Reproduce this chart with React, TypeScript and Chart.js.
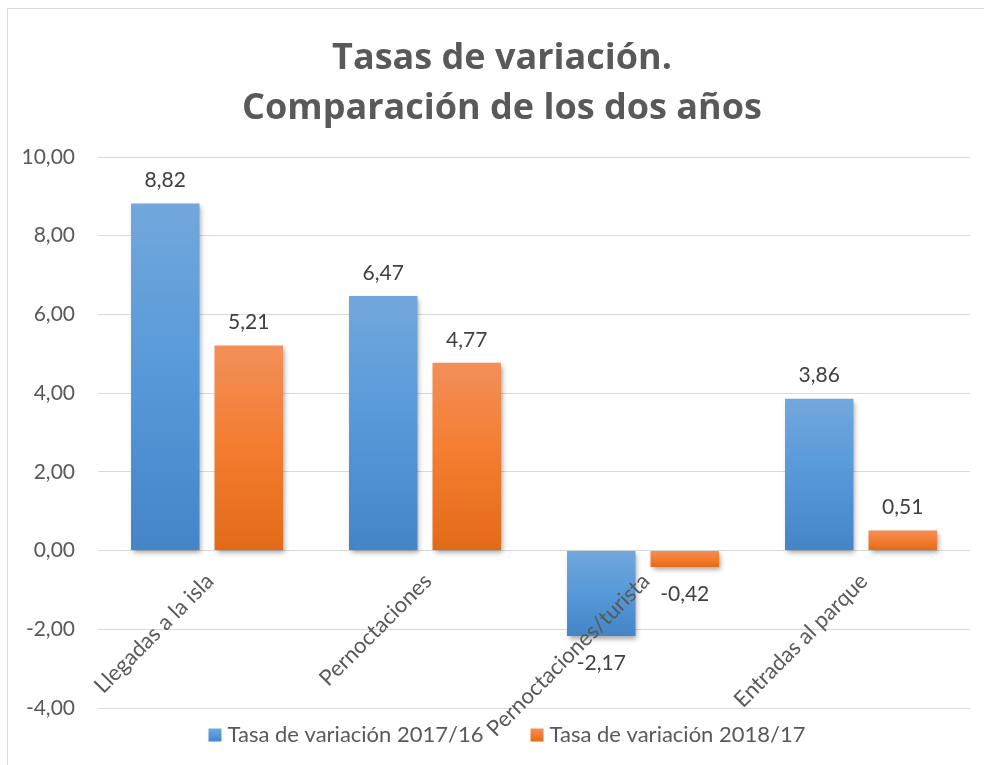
import React, { useEffect, useRef } from 'react';
import { Chart, registerables } from 'chart.js';
Chart.register(...registerables);

const categories = ['Llegadas a la isla', 'Pernoctaciones', 'Pernoctaciones/turista', 'Entradas al parque'];
const series2017 = [8.82, 6.47, -2.17, 3.86];
const series2018 = [5.21, 4.77, -0.42, 0.51];
const seriesNames = ['Tasa de variación 2017/16', 'Tasa de variación 2018/17'];
const titleLines = ['Tasas de variación.', 'Comparación de los dos años'];
const yMin = -4;
const yMax = 10;
const yStep = 2;

const FONT = 'Lato, "Open Sans", sans-serif';
const TITLE_FONT = '"Open Sans", Lato, sans-serif';
const BLUE = ['#72a7dc', '#5699d9', '#4385c6'];
const ORANGE = ['#f28f58', '#f47c2f', '#e26a17'];
const fmt = (v: number) => v.toFixed(2).replace('.', ',');

function gradientFor(stops: string[]) {
  return (ctx: any) => {
    const chart = ctx.chart;
    const { chartArea, scales } = chart;
    if (!chartArea || ctx.type !== 'data' || !scales.y) return stops[1];
    const v = ctx.raw as number;
    const y0 = scales.y.getPixelForValue(0);
    const y1 = scales.y.getPixelForValue(v);
    const top = Math.min(y0, y1);
    const bot = Math.max(y0, y1);
    if (bot - top < 1) return stops[1];
    const g = chart.ctx.createLinearGradient(0, top, 0, bot);
    g.addColorStop(0, stops[0]);
    g.addColorStop(0.5, stops[1]);
    g.addColorStop(1, stops[2]);
    return g;
  };
}

export default function App() {
  const ref = useRef<HTMLCanvasElement>(null);
  useEffect(() => {
    const canvas = ref.current!;
    const decor = {
      id: 'decor',
      beforeDatasetsDraw(chart: any) {
        const c = chart.ctx;
        c.save();
        c.shadowColor = 'rgba(0,0,0,0.35)';
        c.shadowBlur = 5;
        c.shadowOffsetX = 2;
        c.shadowOffsetY = 3;
      },
      afterDatasetsDraw(chart: any) {
        const c = chart.ctx;
        c.restore();
        c.save();
        c.font = `21px ${FONT}`;
        c.fillStyle = '#404040';
        c.textAlign = 'center';
        c.textBaseline = 'middle';
        chart.data.datasets.forEach((ds: any, di: number) => {
          const meta = chart.getDatasetMeta(di);
          meta.data.forEach((bar: any, i: number) => {
            const v = ds.data[i] as number;
            const y = v >= 0 ? bar.y - 23 : bar.y + 27;
            c.fillText(fmt(v), bar.x, y);
          });
        });
        c.restore();
      },
      afterDraw(chart: any) {
        const c = chart.ctx;
        const xs = chart.scales.x;
        const y0 = chart.scales.y.getPixelForValue(0);
        c.save();
        c.font = `22px ${FONT}`;
        c.fillStyle = '#595959';
        c.textAlign = 'right';
        c.textBaseline = 'middle';
        categories.forEach((cat, i) => {
          const x = xs.getPixelForValue(i);
          c.save();
          c.translate(x + 3, y0 + 27);
          c.rotate(-Math.PI / 4);
          c.fillText(cat, 0, 0);
          c.restore();
        });
        c.restore();
        // legend
        c.save();
        c.font = `22px ${FONT}`;
        c.textBaseline = 'middle';
        c.textAlign = 'left';
        const box = 13;
        const gapText = 6;
        const gapItem = 47;
        const stops = [BLUE, ORANGE];
        const widths = chart.data.datasets.map((d: any) => c.measureText(d.label).width);
        const total = widths.reduce((a: number, w: number) => a + box + gapText + w, 0) + gapItem * (widths.length - 1);
        let x = 507 - total / 2;
        const yc = 735;
        chart.data.datasets.forEach((d: any, i: number) => {
          const g = c.createLinearGradient(0, yc - box / 2, 0, yc + box / 2);
          g.addColorStop(0, stops[i][0]);
          g.addColorStop(0.5, stops[i][1]);
          g.addColorStop(1, stops[i][2]);
          c.fillStyle = g;
          c.fillRect(x, yc - box / 2, box, box);
          x += box + gapText;
          c.fillStyle = '#595959';
          c.fillText(d.label, x, yc);
          x += widths[i] + gapItem;
        });
        c.restore();
      },
    };

    const chart = new Chart(canvas, {
      type: 'bar',
      data: {
        labels: categories,
        datasets: [
          {
            label: seriesNames[0],
            data: series2017,
            backgroundColor: gradientFor(BLUE) as any,
            borderWidth: 0,
            categoryPercentage: 0.766,
            barPercentage: 0.82,
          },
          {
            label: seriesNames[1],
            data: series2018,
            backgroundColor: gradientFor(ORANGE) as any,
            borderWidth: 0,
            categoryPercentage: 0.766,
            barPercentage: 0.82,
          },
        ],
      },
      options: {
        responsive: false,
        animation: false,
        devicePixelRatio: 1,
        layout: { padding: { top: 26, left: 8, right: 14, bottom: 57 } },
        plugins: {
          legend: { display: false },
          tooltip: { enabled: false },
          title: {
            display: true,
            text: titleLines,
            color: '#595959',
            font: { family: TITLE_FONT, size: 36, weight: 'bold', lineHeight: 50 / 36 },
            padding: { top: 8, bottom: 23 },
          },
        },
        scales: {
          x: { display: false },
          y: {
            min: yMin,
            max: yMax,
            afterFit: (s: any) => { s.width = 90; },
            ticks: {
              stepSize: yStep,
              padding: 23,
              color: '#595959',
              font: { family: FONT, size: 21 },
              callback: (v: any) => fmt(Number(v)),
            },
            grid: { color: '#d9d9d9', lineWidth: 1, drawTicks: false },
            border: { display: false },
          },
          yRight: {
            position: 'right',
            min: yMin,
            max: yMax,
            afterFit: (s: any) => { s.width = 26; },
            ticks: { display: false },
            grid: { display: false },
            border: { display: false },
          },
        },
      },
      plugins: [decor],
    });
    return () => chart.destroy();
  }, []);

  return (
    <div style={{ position: 'fixed', left: 0, top: 0, width: 984, height: 765, overflow: 'hidden', background: '#fff' }}>
      <div style={{ position: 'absolute', left: 7, top: 8, width: 1000, height: 800, border: '1px solid #d9d9d9' }} />
      <canvas ref={ref} width={1010} height={765} style={{ position: 'absolute', left: 0, top: 0 }} />
    </div>
  );
}
